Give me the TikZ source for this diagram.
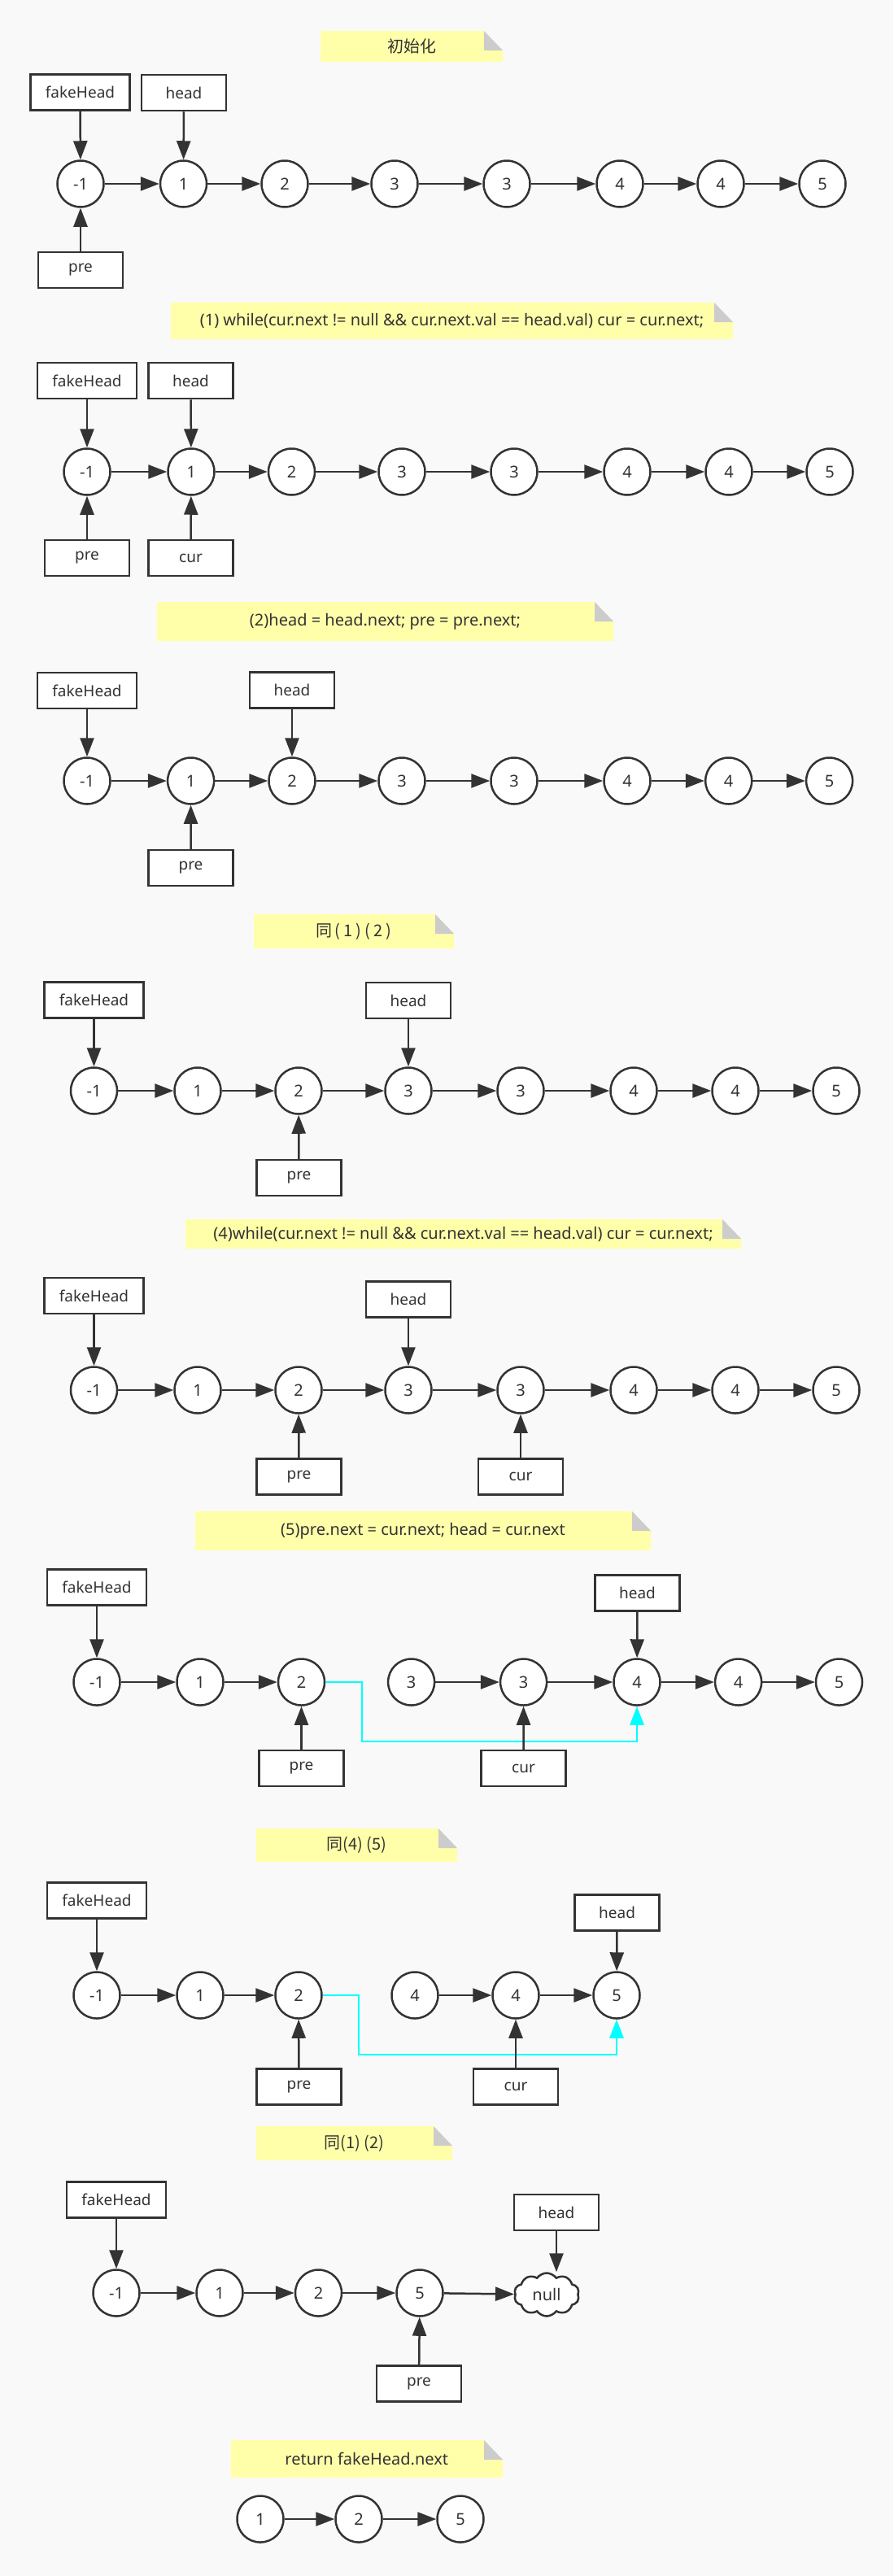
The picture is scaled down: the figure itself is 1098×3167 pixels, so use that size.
\documentclass[tikz,border=0pt]{standalone}
\usepackage{fontspec}
\setmainfont{Noto Sans}
\newfontfamily\cjk{Noto Sans CJK SC}
\usetikzlibrary{arrows.meta,shapes.symbols}

\definecolor{ink}{HTML}{333333}
\definecolor{paper}{HTML}{F9F9F9}
\definecolor{notey}{HTML}{FFFFAA}
\definecolor{foldg}{HTML}{CCCCCC}
\definecolor{jump}{HTML}{00FFFF}

\tikzset{
  listnode/.style={circle, draw=ink, fill=white, line width=2.5pt, minimum size=57pt,
    inner sep=0pt, text=ink, font=\fontsize{20}{20}\selectfont},
  varbox/.style={rectangle, draw=ink, fill=white, line width=2.5pt, minimum width=104pt,
    minimum height=44pt, inner sep=0pt, text=ink, font=\fontsize{19}{19}\selectfont},
  widebox/.style={varbox, minimum width=122pt},
  link/.style={draw=ink, line width=2.5pt, -{Triangle[length=23pt,width=17pt]}},
  jumplink/.style={draw=jump, line width=2.8pt, -{Triangle[length=23pt,width=17pt]}},
  notetext/.style={text=ink, font=\fontsize{20}{20}\selectfont, inner sep=0pt},
  nullcloud/.style={cloud, cloud puffs=10, cloud puff arc=110, aspect=1.5, draw=ink,
    fill=white, line width=2.5pt, minimum width=80pt, minimum height=53pt, inner sep=0pt,
    text=ink, font=\fontsize{20}{20}\selectfont},
}

% sticky note: name, x1, y1, x2, y2, text
\newcommand\stickynote[6]{%
  \fill[notey] (#2,#3) -- (#4-23,#3) -- (#4,#3+24) -- (#4,#5) -- (#2,#5) -- cycle;
  \fill[foldg] (#4-23,#3) -- (#4-23,#3+24) -- (#4,#3+24) -- cycle;
  \node[notetext] (#1) at ({(#2+#4)/2},{(#3+#5)/2}) {#6};
}

\begin{document}
\begin{tikzpicture}[x=1pt,y=-1pt]
\useasboundingbox (0,0) rectangle (1098,3167);
\fill[paper] (0,0) rectangle (1098,3167);

% ---------- initial state
\stickynote{t1}{394}{38}{618}{76}{\cjk 初始化}
\node[widebox] (s1fake) at (98.5,113.5) {fakeHead};
\node[varbox] (s1head) at (226,114) {head};
\node[varbox] (s1pre) at (99,332) {pre};
\foreach \x/\t [count=\i] in {99/-1,225.5/1,350/2,485/3,623/3,762/4,886/4,1011/5}
  \node[listnode] (s1n\i) at (\x,226) {\t};
\foreach \i/\j in {1/2,2/3,3/4,4/5,5/6,6/7,7/8}
  \draw[link] (s1n\i) -- (s1n\j);
\draw[link] (s1fake) -- (s1n1);
\draw[link] (s1head) -- (s1n2);
\draw[link] (s1pre) -- (s1n1);

% ---------- step (1)
\stickynote{t2}{210}{372}{901}{417}{(1) while(cur.next != null \&\& cur.next.val == head.val) cur = cur.next;}
\node[widebox] (s2fake) at (107,468) {fakeHead};
\node[varbox] (s2head) at (234.5,468) {head};
\node[varbox] (s2pre) at (107,686) {pre};
\node[varbox] (s2cur) at (234.5,686) {cur};
\foreach \x/\t [count=\i] in {107/-1,235/1,358.5/2,494/3,632/3,771/4,896/4,1020/5}
  \node[listnode] (s2n\i) at (\x,580) {\t};
\foreach \i/\j in {1/2,2/3,3/4,4/5,5/6,6/7,7/8}
  \draw[link] (s2n\i) -- (s2n\j);
\draw[link] (s2fake) -- (s2n1);
\draw[link] (s2head) -- (s2n2);
\draw[link] (s2pre) -- (s2n1);
\draw[link] (s2cur) -- (s2n2);

% ---------- step (2)
\stickynote{t3}{193}{740}{754}{788}{(2)head = head.next; pre = pre.next;}
\node[widebox] (s3fake) at (107,849) {fakeHead};
\node[varbox] (s3head) at (359,848.5) {head};
\node[varbox] (s3pre) at (234.5,1067) {pre};
\foreach \x/\t [count=\i] in {107/-1,234.6/1,359/2,494/3,632/3,771/4,895.7/4,1019.6/5}
  \node[listnode] (s3n\i) at (\x,960) {\t};
\foreach \i/\j in {1/2,2/3,3/4,4/5,5/6,6/7,7/8}
  \draw[link] (s3n\i) -- (s3n\j);
\draw[link] (s3fake) -- (s3n1);
\draw[link] (s3head) -- (s3n3);
\draw[link] (s3pre) -- (s3n2);

% ---------- repeat (1)(2)
\stickynote{t4}{312}{1124}{558}{1166}{\cjk 同\hspace{3pt}(\hspace{4pt}1\hspace{4pt})\hspace{4pt}(\hspace{4pt}2\hspace{4pt})}
\node[widebox] (s4fake) at (115.5,1229.5) {fakeHead};
\node[varbox] (s4head) at (502,1230) {head};
\node[varbox] (s4pre) at (367.5,1448) {pre};
\foreach \x/\t [count=\i] in {115.5/-1,243/1,367/2,502/3,640/3,779/4,904/4,1028/5}
  \node[listnode] (s4n\i) at (\x,1341) {\t};
\foreach \i/\j in {1/2,2/3,3/4,4/5,5/6,6/7,7/8}
  \draw[link] (s4n\i) -- (s4n\j);
\draw[link] (s4fake) -- (s4n1);
\draw[link] (s4head) -- (s4n4);
\draw[link] (s4pre) -- (s4n3);

% ---------- step (4)
\stickynote{t5}{228}{1499}{911}{1535}{(4)while(cur.next != null \&\& cur.next.val == head.val) cur = cur.next;}
\node[widebox] (s5fake) at (115.5,1593) {fakeHead};
\node[varbox] (s5head) at (502,1597.5) {head};
\node[varbox] (s5pre) at (367.5,1815.5) {pre};
\node[varbox] (s5cur) at (640,1815.5) {cur};
\foreach \x/\t [count=\i] in {115.5/-1,243/1,367/2,502/3,640/3,779/4,904/4,1028/5}
  \node[listnode] (s5n\i) at (\x,1709) {\t};
\foreach \i/\j in {1/2,2/3,3/4,4/5,5/6,6/7,7/8}
  \draw[link] (s5n\i) -- (s5n\j);
\draw[link] (s5fake) -- (s5n1);
\draw[link] (s5head) -- (s5n4);
\draw[link] (s5pre) -- (s5n3);
\draw[link] (s5cur) -- (s5n5);

% ---------- step (5)
\stickynote{t6}{240}{1858}{800}{1906}{(5)pre.next = cur.next; head = cur.next}
\node[widebox] (s6fake) at (119,1951.5) {fakeHead};
\node[varbox] (s6head) at (783.5,1958.5) {head};
\node[varbox] (s6pre) at (370.5,2174) {pre};
\node[varbox] (s6cur) at (643.5,2174) {cur};
\foreach \x/\t [count=\i] in {119/-1,246/1,370.5/2,505.6/3,643.6/3,783/4,907.6/4,1031.5/5}
  \node[listnode] (s6n\i) at (\x,2068) {\t};
\foreach \i/\j in {1/2,2/3,4/5,5/6,6/7,7/8}
  \draw[link] (s6n\i) -- (s6n\j);
\draw[jumplink] (s6n3.east) -| (445,2141) -| (s6n6.south);
\draw[link] (s6fake) -- (s6n1);
\draw[link] (s6head) -- (s6n6);
\draw[link] (s6pre) -- (s6n3);
\draw[link] (s6cur) -- (s6n5);

% ---------- repeat (4)(5)
\stickynote{t7}{315}{2248}{562}{2289}{\cjk 同(4) (5)}
\node[widebox] (s7fake) at (119,2336.5) {fakeHead};
\node[varbox] (s7head) at (758.6,2351.5) {head};
\node[varbox] (s7pre) at (367.5,2565.5) {pre};
\node[varbox] (s7cur) at (634,2565.5) {cur};
\foreach \x/\t [count=\i] in {119/-1,246/1,367/2,510/4,634/4,758/5}
  \node[listnode] (s7n\i) at (\x,2453) {\t};
\foreach \i/\j in {1/2,2/3,4/5,5/6}
  \draw[link] (s7n\i) -- (s7n\j);
\draw[jumplink] (s7n3.east) -| (441,2526) -| (s7n6.south);
\draw[link] (s7fake) -- (s7n1);
\draw[link] (s7head) -- (s7n6);
\draw[link] (s7pre) -- (s7n3);
\draw[link] (s7cur) -- (s7n5);

% ---------- repeat (1)(2) again
\stickynote{t8}{315}{2614}{556}{2656}{\cjk 同(1) (2)}
\node[widebox] (s8fake) at (143,2704.5) {fakeHead};
\node[varbox] (s8head) at (684,2720) {head};
\node[varbox] (s8pre) at (515,2930.5) {pre};
\foreach \x/\t [count=\i] in {143/-1,270/1,391.5/2,516/5}
  \node[listnode] (s8n\i) at (\x,2819) {\t};
\node[nullcloud] (s8null) at (672,2821) {null};
\foreach \i/\j in {1/2,2/3,3/4}
  \draw[link] (s8n\i) -- (s8n\j);
\draw[link] (s8n4) -- (s8null);
\draw[link] (s8fake) -- (s8n1);
\draw[link] (s8head.south) -- (s8head.south |- s8null.north);
\draw[link] (s8pre) -- (s8n4);

% ---------- result
\stickynote{t9}{283.6}{3000}{618}{3046}{return fakeHead.next}
\foreach \x/\t [count=\i] in {320/1,441/2,566/5}
  \node[listnode] (s9n\i) at (\x,3097) {\t};
\foreach \i/\j in {1/2,2/3}
  \draw[link] (s9n\i) -- (s9n\j);
\end{tikzpicture}
\end{document}
